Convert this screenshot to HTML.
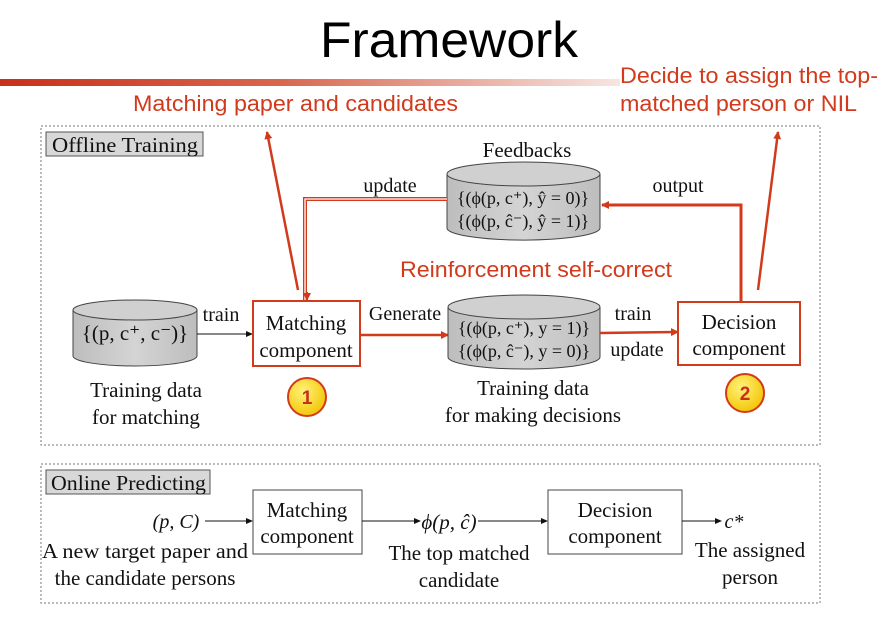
<!DOCTYPE html>
<html><head><meta charset="utf-8"><style>
html,body{margin:0;padding:0;background:#fff;}
svg{display:block;}
.s{font-family:"Liberation Serif",serif;fill:#111;}
.r{font-family:"Liberation Sans",sans-serif;fill:#d23a1c;}
</style></head><body>
<svg width="894" height="617" viewBox="0 0 894 617" xmlns="http://www.w3.org/2000/svg">
<defs>
<linearGradient id="bar" x1="0" x2="1"><stop offset="0" stop-color="#c8301a"/><stop offset="0.45" stop-color="#d8664e"/><stop offset="1" stop-color="#f6e6e2"/></linearGradient>
<linearGradient id="cyl" x1="0" x2="1"><stop offset="0" stop-color="#bdbdbd"/><stop offset="0.5" stop-color="#d4d4d4"/><stop offset="1" stop-color="#bdbdbd"/></linearGradient>
<radialGradient id="cir" cx="0.4" cy="0.35" r="0.7"><stop offset="0" stop-color="#fff27a"/><stop offset="1" stop-color="#f3c400"/></radialGradient>
<marker id="ar" markerWidth="8" markerHeight="8" refX="7" refY="4" orient="auto" markerUnits="userSpaceOnUse"><path d="M0,0 L8,4 L0,8 z" fill="#d23a1c"/></marker>
<marker id="ab" markerWidth="7" markerHeight="6" refX="6" refY="3" orient="auto" markerUnits="userSpaceOnUse"><path d="M0,0 L7,3 L0,6 z" fill="#111"/></marker>
</defs>
<text x="449" y="57" font-family="Liberation Sans,sans-serif" font-size="50" text-anchor="middle" fill="#000" textLength="258" lengthAdjust="spacingAndGlyphs">Framework</text>
<rect x="0" y="79" width="620" height="7" fill="url(#bar)"/>
<text x="133" y="111" class="r" font-size="22" textLength="325" lengthAdjust="spacingAndGlyphs">Matching paper and candidates</text>
<text x="620" y="83" class="r" font-size="22" textLength="258" lengthAdjust="spacingAndGlyphs">Decide to assign the top-</text>
<text x="620" y="111" class="r" font-size="22" textLength="237" lengthAdjust="spacingAndGlyphs">matched person or NIL</text>

<rect x="41" y="126" width="779" height="319" fill="none" stroke="#777" stroke-dasharray="2,2"/>
<rect x="46" y="132" width="157" height="24" fill="#d8d8d8" stroke="#555"/>
<text x="52" y="152" class="s" font-size="21" textLength="146" lengthAdjust="spacingAndGlyphs">Offline Training</text>

<text x="527" y="157" class="s" font-size="21" text-anchor="middle">Feedbacks</text>
<g>
<path d="M447,174 V228 A76,12 0 0 0 600,228 V174" fill="url(#cyl)" stroke="#444"/>
<ellipse cx="523.5" cy="174" rx="76.5" ry="12" fill="#d0d0d0" stroke="#444"/>
</g>
<text x="523" y="204" class="s" font-size="18" text-anchor="middle">{(ϕ(p, c⁺), ŷ = 0)}</text>
<text x="523" y="227" class="s" font-size="18" text-anchor="middle">{(ϕ(p, ĉ⁻), ŷ = 1)}</text>

<text x="390" y="192" class="s" font-size="20" text-anchor="middle">update</text>
<text x="678" y="192" class="s" font-size="20" text-anchor="middle">output</text>
<path d="M447,199 H305 V300" fill="none" stroke="#d23a1c" stroke-width="4"/>
<path d="M447,199 H305 V300" fill="none" stroke="#fff" stroke-width="1.3"/>
<path d="M307,292 L307,300" stroke="#d23a1c" stroke-width="2" marker-end="url(#ar)"/>
<path d="M741,302 V205 H602" fill="none" stroke="#d23a1c" stroke-width="3" marker-end="url(#ar)"/>

<path d="M298,290 L267,132" stroke="#d23a1c" stroke-width="2.5" marker-end="url(#ar)"/>
<path d="M758,290 L778,132" stroke="#d23a1c" stroke-width="2.5" marker-end="url(#ar)"/>

<text x="400" y="277" class="r" font-size="22" textLength="272" lengthAdjust="spacingAndGlyphs">Reinforcement self-correct</text>

<g>
<path d="M73,310 V356 A62,10 0 0 0 197,356 V310" fill="url(#cyl)" stroke="#444"/>
<ellipse cx="135" cy="310" rx="62" ry="10" fill="#d0d0d0" stroke="#444"/>
</g>
<text x="135" y="340" class="s" font-size="21" text-anchor="middle">{(p, c⁺, c⁻)}</text>
<text x="221" y="321" class="s" font-size="20" text-anchor="middle">train</text>
<line x1="197" y1="334" x2="252" y2="334" stroke="#111" stroke-width="1" marker-end="url(#ab)"/>

<rect x="253" y="301" width="107" height="65" fill="#fff" stroke="#d23a1c" stroke-width="2"/>
<text x="306" y="330" class="s" font-size="21" text-anchor="middle">Matching</text>
<text x="306" y="357" class="s" font-size="21" text-anchor="middle">component</text>
<text x="405" y="320" class="s" font-size="20" text-anchor="middle">Generate</text>
<line x1="360" y1="335" x2="448" y2="335" stroke="#d23a1c" stroke-width="2.5" marker-end="url(#ar)"/>

<g>
<path d="M448,307 V357 A76,12 0 0 0 600,357 V307" fill="url(#cyl)" stroke="#444"/>
<ellipse cx="524" cy="307" rx="76" ry="12" fill="#d0d0d0" stroke="#444"/>
</g>
<text x="524" y="334" class="s" font-size="18" text-anchor="middle">{(ϕ(p, c⁺), y = 1)}</text>
<text x="524" y="357" class="s" font-size="18" text-anchor="middle">{(ϕ(p, ĉ⁻), y = 0)}</text>
<text x="633" y="320" class="s" font-size="20" text-anchor="middle">train</text>
<text x="637" y="356" class="s" font-size="20" text-anchor="middle">update</text>
<line x1="600" y1="333" x2="678" y2="332" stroke="#d23a1c" stroke-width="2.5" marker-end="url(#ar)"/>

<rect x="678" y="302" width="122" height="63" fill="#fff" stroke="#d23a1c" stroke-width="2"/>
<text x="739" y="329" class="s" font-size="21" text-anchor="middle">Decision</text>
<text x="739" y="355" class="s" font-size="21" text-anchor="middle">component</text>

<circle cx="307" cy="397" r="19" fill="url(#cir)" stroke="#d23a1c" stroke-width="2"/>
<text x="307" y="404" font-family="Liberation Sans,sans-serif" font-weight="bold" font-size="19" fill="#c8301a" text-anchor="middle">1</text>
<circle cx="745" cy="393" r="19" fill="url(#cir)" stroke="#d23a1c" stroke-width="2"/>
<text x="745" y="400" font-family="Liberation Sans,sans-serif" font-weight="bold" font-size="19" fill="#c8301a" text-anchor="middle">2</text>

<text x="146" y="397" class="s" font-size="21" text-anchor="middle">Training data</text>
<text x="146" y="424" class="s" font-size="21" text-anchor="middle">for matching</text>
<text x="533" y="395" class="s" font-size="21" text-anchor="middle">Training data</text>
<text x="533" y="422" class="s" font-size="21" text-anchor="middle">for making decisions</text>

<rect x="41" y="464" width="779" height="139" fill="none" stroke="#777" stroke-dasharray="2,2"/>
<rect x="46" y="470" width="164" height="24" fill="#d8d8d8" stroke="#555"/>
<text x="51" y="490" class="s" font-size="21" textLength="155" lengthAdjust="spacingAndGlyphs">Online Predicting</text>

<text x="176" y="528" class="s" font-size="20" text-anchor="middle" font-style="italic">(p, C)</text>
<line x1="205" y1="521" x2="252" y2="521" stroke="#111" marker-end="url(#ab)"/>
<rect x="253" y="490" width="109" height="64" fill="#fff" stroke="#444"/>
<text x="307" y="517" class="s" font-size="21" text-anchor="middle">Matching</text>
<text x="307" y="543" class="s" font-size="21" text-anchor="middle">component</text>
<line x1="362" y1="521" x2="420" y2="521" stroke="#111" marker-end="url(#ab)"/>
<text x="449" y="529" class="s" font-size="21" text-anchor="middle" font-style="italic">ϕ(p, ĉ)</text>
<line x1="478" y1="521" x2="547" y2="521" stroke="#111" marker-end="url(#ab)"/>
<rect x="548" y="490" width="134" height="64" fill="#fff" stroke="#444"/>
<text x="615" y="517" class="s" font-size="21" text-anchor="middle">Decision</text>
<text x="615" y="543" class="s" font-size="21" text-anchor="middle">component</text>
<line x1="682" y1="521" x2="721" y2="521" stroke="#111" marker-end="url(#ab)"/>
<text x="734" y="528" class="s" font-size="20" text-anchor="middle" font-style="italic">c*</text>

<text x="145" y="558" class="s" font-size="21" text-anchor="middle" textLength="206" lengthAdjust="spacingAndGlyphs">A new target paper and</text>
<text x="145" y="585" class="s" font-size="21" text-anchor="middle">the candidate persons</text>
<text x="459" y="560" class="s" font-size="21" text-anchor="middle">The top matched</text>
<text x="459" y="587" class="s" font-size="21" text-anchor="middle">candidate</text>
<text x="750" y="557" class="s" font-size="21" text-anchor="middle">The assigned</text>
<text x="750" y="584" class="s" font-size="21" text-anchor="middle">person</text>
</svg>
</body></html>
